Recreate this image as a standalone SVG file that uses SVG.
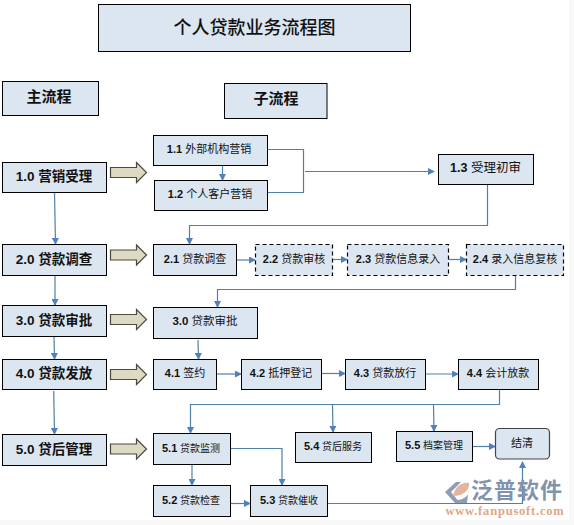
<svg xmlns="http://www.w3.org/2000/svg" width="574" height="525" viewBox="0 0 574 525">
<style>
.n{fill:#dce6f1;stroke:#000;stroke-width:1}
.d{stroke-dasharray:4 3;stroke-width:1.2}
.c{fill:none;stroke:#4f81a8;stroke-width:1.2}
.b{fill:#ddd9c3;stroke:#4a4a40;stroke-width:1.2}
text{font-family:"Liberation Sans","Noto Sans CJK SC",sans-serif;fill:#111;text-anchor:middle;dominant-baseline:central}
.t18{font-size:18px;font-weight:500}
.t15{font-size:15px;font-weight:700}
.m{font-size:13.500px;font-weight:700}
.s{font-size:11px}
.f{font-size:10px}
.num{font-weight:700}
.f .num{font-size:11px}
.m12{font-size:12.500px}
</style>
<defs>
<marker id="a" markerWidth="7" markerHeight="7" refX="6" refY="3.5" orient="auto" markerUnits="userSpaceOnUse"><path d="M0 0L7 3.500L0 7Z" fill="#4f81bd"/></marker>
<path id="big" d="M0-5H26V-10L36 0L26 10V5H0Z"/>
</defs>
<rect width="574" height="525" fill="#fff"/>
<rect x="569" y="0" width="5" height="525" fill="#f8f8f8"/>
<rect x="0" y="520" width="574" height="5" fill="#f8f8f8"/>
<g id="connectors">
<path class="c" d="M267.500 149.500H303.500V192.500H267.500"/>
<path class="c" marker-end="url(#a)" d="M305 171.500H434"/>
<path class="c" marker-end="url(#a)" d="M487.500 184.500V225.500H189.500V244"/>
<path class="c" marker-end="url(#a)" d="M222.500 165.500V180"/>
<path class="c" marker-end="url(#a)" d="M54.500 192.500L55.500 244"/>
<path class="c" marker-end="url(#a)" d="M236.500 260H255"/>
<path class="c" marker-end="url(#a)" d="M332.500 259.500H347"/>
<path class="c" marker-end="url(#a)" d="M448.500 259.500H466"/>
<path class="c" marker-end="url(#a)" d="M515.500 275.500V289.500H217.500V307"/>
<path class="c" marker-end="url(#a)" d="M55 275.500V305"/>
<path class="c" marker-end="url(#a)" d="M54 336.500L54.500 359"/>
<path class="c" marker-end="url(#a)" d="M53.700 391L54.500 434"/>
<path class="c" marker-end="url(#a)" d="M198 340L198.500 359"/>
<path class="c" marker-end="url(#a)" d="M216.500 374H241"/>
<path class="c" marker-end="url(#a)" d="M321.500 373.500H345"/>
<path class="c" marker-end="url(#a)" d="M425.500 374H458"/>
<path class="c" marker-end="url(#a)" d="M499.500 389.500V404.500H190.500V433"/>
<path class="c" marker-end="url(#a)" d="M332.500 404.500L333 432"/>
<path class="c" marker-end="url(#a)" d="M433.500 404.500L434 431"/>
<path class="c" marker-end="url(#a)" d="M230.500 448.500H282V485"/>
<path class="c" marker-end="url(#a)" d="M192 464.500V485"/>
<path class="c" marker-end="url(#a)" d="M230.500 503.500H250"/>
<path class="c" marker-end="url(#a)" d="M327.500 503.500H522.500V462"/>
<path class="c" marker-end="url(#a)" d="M472.500 446.500H495"/>
</g>
<g id="big-arrows">
<use href="#big" class="b" x="110.500" y="172.500"/>
<use href="#big" class="b" x="110.500" y="255"/>
<use href="#big" class="b" x="110.500" y="319.500"/>
<use href="#big" class="b" x="110.500" y="374.500"/>
<use href="#big" class="b" x="110.500" y="449"/>
</g>
<g id="title"><rect class="n" x="98.500" y="4.500" width="312" height="47"/><text class="t18" x="254.500" y="28">个人贷款业务流程图</text></g>
<g id="main-head"><rect class="n" x="2.500" y="81.500" width="96" height="34"/><text class="t15" x="49" y="96">主流程</text></g>
<g id="sub-head"><rect class="n" x="224.500" y="83.500" width="102.500" height="35"/><text class="t15" x="276" y="98">子流程</text></g>
<g id="m1"><rect class="n" x="2.500" y="162.500" width="104" height="30"/><text class="m" x="54" y="176">1.0 营销受理</text></g>
<g id="m2"><rect class="n" x="2.500" y="244.500" width="104" height="31"/><text class="m" x="54" y="259">2.0 贷款调查</text></g>
<g id="m3"><rect class="n" x="2.500" y="305.500" width="104" height="31"/><text class="m" x="54" y="320">3.0 贷款审批</text></g>
<g id="m4"><rect class="n" x="2.500" y="359.500" width="104" height="30"/><text class="m" x="54" y="373">4.0 贷款发放</text></g>
<g id="m5"><rect class="n" x="2.500" y="434.500" width="104" height="31"/><text class="m" x="54" y="449">5.0 贷后管理</text></g>
<g id="n11"><rect class="n" x="153.500" y="135.500" width="114" height="30"/><text class="s" x="209" y="149"><tspan class="num">1.1</tspan> 外部机构营销</text></g>
<g id="n12"><rect class="n" x="154.500" y="180.500" width="113" height="30"/><text class="s" x="210" y="194"><tspan class="num">1.2</tspan> 个人客户营销</text></g>
<g id="n13"><rect class="n" x="438.500" y="154.500" width="95" height="30"/><text class="m12" x="485.500" y="168"><tspan class="num">1.3</tspan> 受理初审</text></g>
<g id="n21"><rect class="n" x="153.500" y="244.500" width="83" height="31"/><text class="s" x="195" y="259"><tspan class="num">2.1</tspan> 贷款调查</text></g>
<g id="n22"><rect class="n d" x="255.500" y="244.500" width="77" height="31"/><text class="s" x="294" y="259"><tspan class="num">2.2</tspan> 贷款审核</text></g>
<g id="n23"><rect class="n d" x="347.500" y="244.500" width="101" height="31"/><text class="s" x="398" y="259"><tspan class="num">2.3</tspan> 贷款信息录入</text></g>
<g id="n24"><rect class="n d" x="466.500" y="244.500" width="97" height="31"/><text class="s" x="515" y="259"><tspan class="num">2.4</tspan> 录入信息复核</text></g>
<g id="n30"><rect class="n" x="153.500" y="307.500" width="104" height="31"/><text class="s" x="205" y="321" style="font-size:11.500px"><tspan class="num">3.0</tspan> 贷款审批</text></g>
<g id="n41"><rect class="n" x="153.500" y="359.500" width="63" height="30"/><text class="s" x="185" y="373"><tspan class="num">4.1</tspan> 签约</text></g>
<g id="n42"><rect class="n" x="241.500" y="359.500" width="80" height="30"/><text class="s" x="281" y="373"><tspan class="num">4.2</tspan> 抵押登记</text></g>
<g id="n43"><rect class="n" x="345.500" y="359.500" width="80" height="30"/><text class="s" x="385" y="373"><tspan class="num">4.3</tspan> 贷款放行</text></g>
<g id="n44"><rect class="n" x="458.500" y="359.500" width="80" height="30"/><text class="s" x="498" y="373"><tspan class="num">4.4</tspan> 会计放款</text></g>
<g id="n51"><rect class="n" x="153.500" y="433.500" width="77" height="31"/><text class="f" x="191" y="448"><tspan class="num">5.1</tspan> 贷款监测</text></g>
<g id="n52"><rect class="n" x="153.500" y="485.500" width="77" height="31"/><text class="f" x="191" y="500"><tspan class="num">5.2</tspan> 贷款检查</text></g>
<g id="n53"><rect class="n" x="250.500" y="485.500" width="77" height="31"/><text class="f" x="289" y="500"><tspan class="num">5.3</tspan> 贷款催收</text></g>
<g id="n54"><rect class="n" x="295.500" y="432.500" width="76" height="30"/><text class="f" x="333" y="446"><tspan class="num">5.4</tspan> 贷后服务</text></g>
<g id="n55"><rect class="n" x="396.500" y="431.500" width="76" height="30"/><text class="f" x="434" y="445"><tspan class="num">5.5</tspan> 档案管理</text></g>
<g id="end"><rect class="n" x="495.500" y="428.500" width="54" height="30.500" rx="4" style="stroke:#444;stroke-width:1.200"/><text class="s" x="522" y="443">结清</text></g>
<g id="logo">
<path d="M445 492L456 482H461L451 492L460 503H455Z" fill="#8e9db5"/>
<path d="M453 496C455 487 461 482 469 483C470 490 463 496 453 496Z" fill="#e5b49a"/>
<path d="M456 500C461 500 466 498 468 494L467 503H460Z" fill="#8e9db5"/>
<text x="517" y="490" style="font-size:22px;letter-spacing:1px;font-weight:700;fill:#8293ad">泛普软件</text>
<text x="505" y="510.500" style="font-family:'Liberation Serif',serif;font-size:12.500px;font-weight:700;fill:#e2a586;letter-spacing:.8px">www.fanpusoft.com</text>
</g>
</svg>
